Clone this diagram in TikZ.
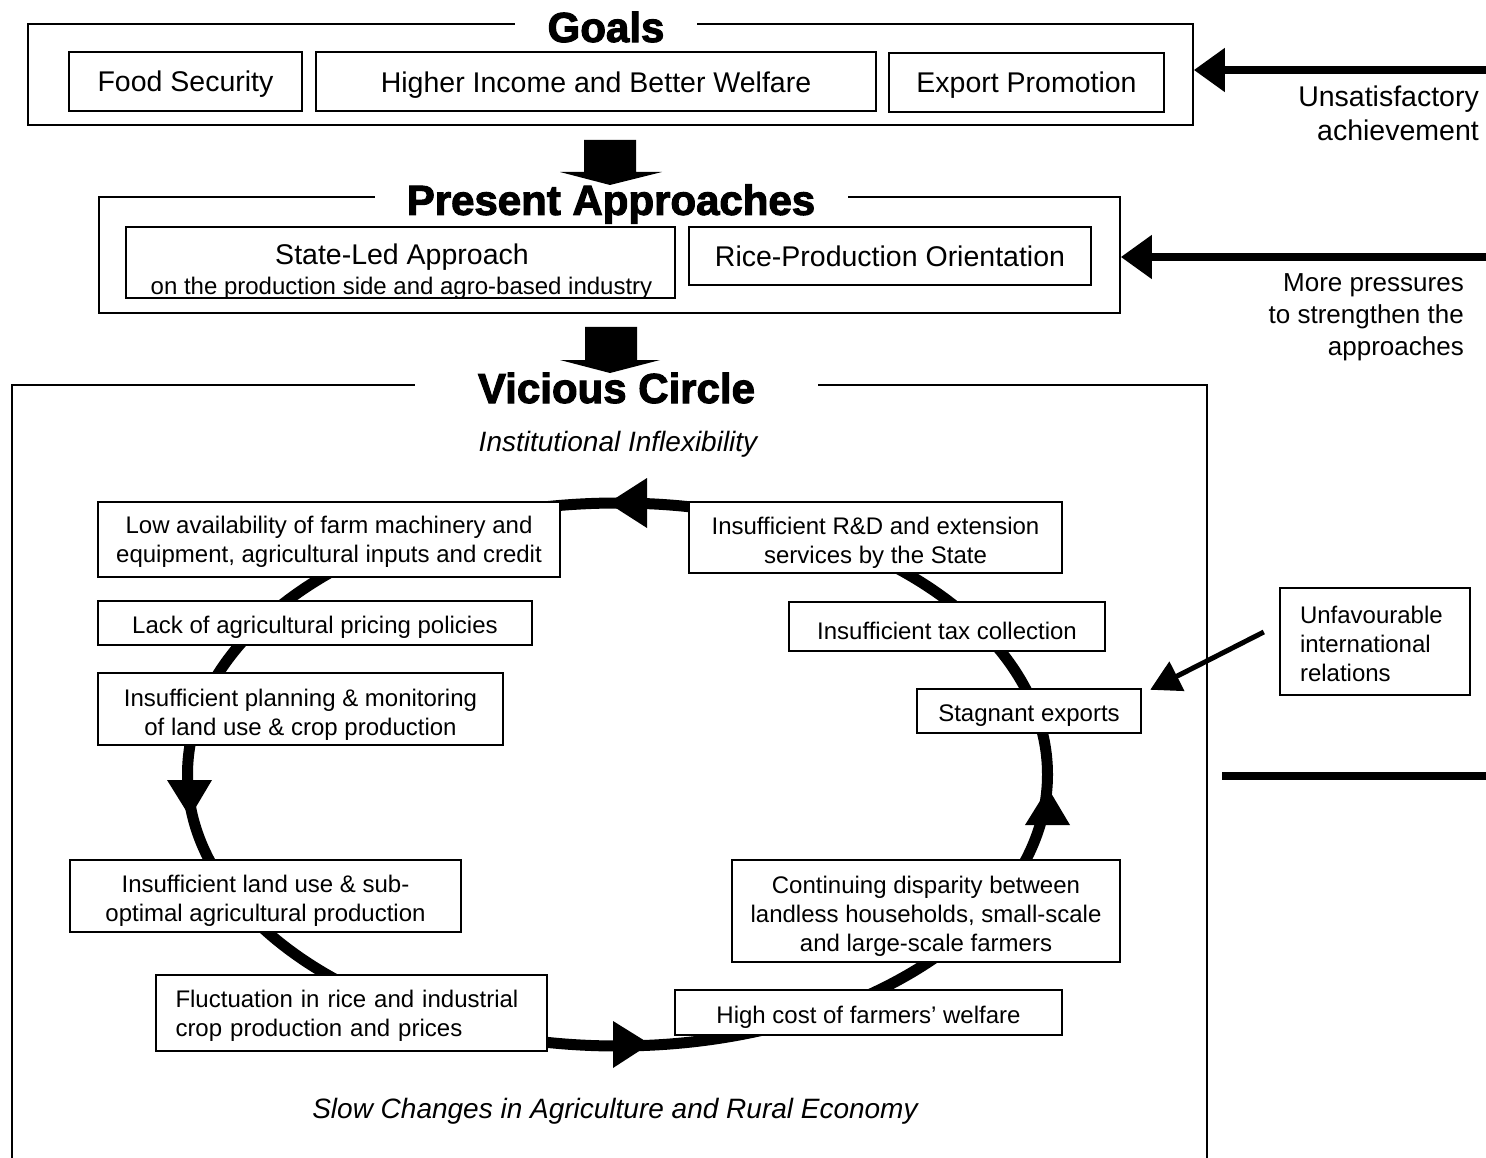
\documentclass[tikz,border=0pt]{standalone}
\usepackage{fontspec}
\setmainfont{Liberation Sans}
\newfontfamily\ttlfont[FakeBold=2.5]{Liberation Sans Bold}
\usetikzlibrary{arrows.meta}
\newcommand{\lowerby}[1]{\rule{0pt}{#1}}
\begin{document}
\begin{tikzpicture}[x=1pt,y=-1pt,
  frame/.style={draw, line width=1.6pt, inner sep=0pt},
  gbox/.style={draw, line width=2.8pt, fill=white, inner sep=0pt, font=\fontsize{28.5}{34}\selectfont},
  gdown/.style={execute at begin node={\lowerby{26pt}}},
  cbox/.style={draw, line width=2.4pt, fill=white, inner sep=0pt, align=center, font=\fontsize{24}{29}\selectfont},
  sdown/.style={execute at begin node={\lowerby{26.5pt}}},
  tdown/.style={execute at begin node={\lowerby{22pt}}},
  ttl/.style={fill=white, inner sep=0pt, font=\fontsize{42}{48}\ttlfont},
  note/.style={inner sep=0pt, font=\fontsize{28}{33}\selectfont\itshape},
  side/.style={inner sep=0pt, align=right},
  cyc/.style={line width=11pt},
  bigarrow/.style={line width=8pt, -{Triangle[length=31pt,width=42pt]}},
]
\useasboundingbox[fill=white] (0,0) rectangle (1486,1158);

% ---------- frames ----------
\node[frame, minimum width=1165, minimum height=101] (goals) at (610.5,74.5) {};
\node[frame, minimum width=1021, minimum height=116] (present) at (609.5,255) {};
\draw[line width=1.6pt] (12,1158) -- (12,385) -- (1207,385) -- (1207,1158);

\node[ttl, minimum width=182] (tgoals) at (606,27) {Goals};
\node[ttl, minimum width=473] (tpresent) at (611,204) {Present Approaches};
\node[ttl, minimum width=403] (tvicious) at (616.5,388) {Vicious Circle};

% ---------- block arrows ----------
\fill (584,140) -- (636,140) -- (636,172) -- (662,172) -- (610,185) -- (560,172) -- (584,172) -- cycle;
\fill (585,327) -- (637,327) -- (637,360) -- (660,360) -- (610,373) -- (560,360) -- (585,360) -- cycle;

% ---------- goals ----------
\node[gbox, gdown, minimum width=233, minimum height=59] (food) at (185.5,81.5) {Food Security};
\node[gbox, execute at begin node={\lowerby{27pt}}, minimum width=560, minimum height=59] (income) at (596,81.5) {Higher Income and Better Welfare};
\node[gbox, gdown, minimum width=275, minimum height=59] (export) at (1026.5,82.5) {Export Promotion};

% ---------- present approaches ----------
\node[gbox, minimum width=549, minimum height=71] (state) at (400.5,262.5) {};
\node[inner sep=0pt, anchor=base, font=\fontsize{28.5}{34}\selectfont] (statea) at (402,265) {State-Led Approach};
\node[inner sep=0pt, anchor=base, font=\fontsize{24}{29}\selectfont] (stateb) at (401.5,295) {on the production side and agro-based industry};
\node[gbox, minimum width=402, minimum height=58] (rice) at (890,256) {Rice-Production Orientation};

% ---------- vicious circle ----------
\node[note] (inst) at (618,444) {Institutional Inflexibility};
\node[note] (slow) at (615,1111) {Slow Changes in Agriculture and Rural Economy};

\coordinate (ctr) at (617.5,774.5);
\draw[cyc] (ctr) ellipse [x radius=430pt, y radius=271.5pt];
\fill (608,503) -- (647,478) -- (647,528) -- cycle;
\fill (190,817) -- (167,780) -- (212,780) -- cycle;
\fill (650,1044) -- (613,1021) -- (613,1068) -- cycle;
\fill (1048,788) -- (1025,825) -- (1070,825) -- cycle;

\node[cbox, minimum width=462, minimum height=75] (low) at (329,539.5) {\lowerby{22pt}Low availability of farm machinery and\\equipment, agricultural inputs and credit};
\node[cbox, minimum width=373, minimum height=71] (rd) at (875.5,537.5) {\lowerby{27pt}Insufficient R\&D and extension\\services by the State};
\node[cbox, sdown, minimum width=434, minimum height=44] (lack) at (315,623) {Lack of agricultural pricing policies};
\node[cbox, sdown, minimum width=316, minimum height=49] (tax) at (947,626.5) {Insufficient tax collection};
\node[cbox, minimum width=405, minimum height=72] (plan) at (300.5,709) {\lowerby{28pt}Insufficient planning \& monitoring\\of land use \& crop production};
\node[cbox, sdown, minimum width=224, minimum height=44] (stag) at (1029,711) {Stagnant exports};
\node[cbox, minimum width=391, minimum height=72] (land) at (265.5,896) {\lowerby{27pt}Insufficient land use \& sub-\\optimal agricultural production};
\node[cbox, minimum width=388, minimum height=102] (cont) at (926,911) {\lowerby{28pt}Continuing disparity between\\landless households, small-scale\\and large-scale farmers};
\node[cbox, tdown, minimum width=391, minimum height=76, text width=352pt, align=left] (fluct) at (351.5,1013) {Fluctuation in rice and industrial\\crop production and prices};
\node[cbox, sdown, minimum width=387, minimum height=45] (high) at (868.5,1012.5) {High cost of farmers' welfare};

% ---------- right side ----------
\node[cbox, tdown, minimum width=190, minimum height=107, text width=150pt, align=left] (unfav) at (1375,641.5) {Unfavourable\\international\\relations};
\draw[line width=5pt, -{Triangle[length=30pt,width=32pt]}] ([xshift=-15pt,yshift=9.5pt]unfav.west) -- ([xshift=8pt,yshift=-2pt]stag.north east);

\coordinate (a1) at (1486,70);
\draw[bigarrow] (a1) -- (goals.east |- a1);
\node[side, anchor=east, font=\fontsize{28.5}{34}\selectfont] (unsat) at (1479,113) {Unsatisfactory\\achievement};

\coordinate (a2) at (1486,257);
\draw[bigarrow] (a2) -- (present.east |- a2);
\node[side, anchor=east, font=\fontsize{26}{32}\selectfont] (press) at (1464,317) {More pressures\\to strengthen the\\approaches};

\coordinate (l3a) at (1222,776);
\coordinate (l3b) at (1486,776);
\draw[line width=8pt] (l3a) -- (l3b);
\end{tikzpicture}
\end{document}
